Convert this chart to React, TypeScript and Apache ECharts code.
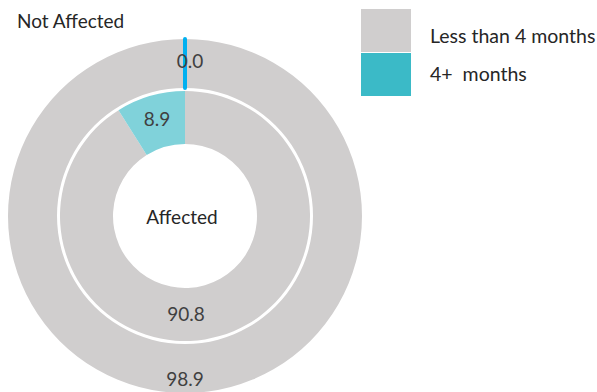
import React, { useEffect, useRef } from "react";
import * as echarts from "echarts";

const categories = ["Less than 4 months", "4+  months"];
const notAffectedValues = [98.9, 0.0];
const affectedValues = [90.8, 8.9];
const ringTitles = ["Not Affected", "Affected"];

const GREY = "#D0CECE";
const TEAL_LEGEND = "#3BBAC7";
const TEAL_LIGHT = "#80D2DA";
const BLUE = "#00B0F0";
const FONT = "Lato";

export default function App() {
  const ref = useRef<HTMLDivElement>(null);
  useEffect(() => {
    document.body.style.margin = "0";
    const chart = echarts.init(ref.current!, null, { renderer: "svg" });
    const labelCommon = {
      show: true,
      position: "inside" as const,
      fontFamily: FONT,
      fontSize: 19,
      color: "#404040",
      formatter: (p: any) => Number(p.value).toFixed(1),
    };
    const legendText = { fontFamily: FONT, fontSize: 19.5, color: "#262626" };
    chart.setOption({
      animation: false,
      legend: {
        orient: "vertical",
        left: 356,
        top: 4,
        itemWidth: 50,
        itemHeight: 43,
        itemGap: 1,
        icon: "rect",
        selectedMode: false,
        itemStyle: { borderWidth: 0 },
        formatter: (name: string) =>
          name === categories[0] ? `{a|${name}}` : `{b|${name}}`,
        textStyle: {
          ...legendText,
          rich: {
            a: { ...legendText, padding: [9, 0, 0, 14] },
            b: { ...legendText, padding: [0, 0, 3, 14] },
          },
        },
        data: [
          { name: categories[0], itemStyle: { color: GREY, borderWidth: 0 } },
          { name: categories[1], itemStyle: { color: TEAL_LEGEND, borderWidth: 0 } },
        ],
      },
      graphic: [
        {
          type: "text",
          left: 17,
          top: 11,
          style: { text: ringTitles[0], font: `19px ${FONT}`, fill: "#262626" },
        },
        {
          type: "text",
          x: 182,
          y: 216,
          style: {
            text: ringTitles[1],
            font: `19px ${FONT}`,
            fill: "#262626",
            textAlign: "center",
            textVerticalAlign: "middle",
          },
        },
      ],
      series: [
        {
          type: "pie",
          name: ringTitles[0],
          center: [185, 216],
          radius: [128, 177],
          startAngle: 90,
          clockwise: true,
          avoidLabelOverlap: false,
          silent: true,
          label: labelCommon,
          labelLine: { show: false },
          emphasis: { disabled: true },
          labelLayout: (p: any) => (p.dataIndex === 0 ? { dy: 7 } : { dx: 5 }),
          data: [
            { name: categories[0], value: notAffectedValues[0], itemStyle: { color: GREY } },
            {
              name: categories[1],
              value: notAffectedValues[1],
              itemStyle: { color: BLUE, borderColor: BLUE, borderWidth: 4 },
            },
          ],
        },
        {
          type: "pie",
          name: ringTitles[1],
          center: [185, 216],
          radius: [72, 125],
          startAngle: 90,
          clockwise: true,
          avoidLabelOverlap: false,
          silent: true,
          label: labelCommon,
          labelLine: { show: false },
          emphasis: { disabled: true },
          labelLayout: (p: any) => (p.dataIndex === 0 ? { dx: -27 } : {}),
          data: [
            { name: categories[0], value: affectedValues[0], itemStyle: { color: GREY } },
            { name: categories[1], value: affectedValues[1], itemStyle: { color: TEAL_LIGHT } },
          ],
        },
      ],
    });
    return () => chart.dispose();
  }, []);
  return (
    <div
      ref={ref}
      style={{ position: "absolute", left: 0, top: 0, width: 597, height: 392 }}
    />
  );
}
